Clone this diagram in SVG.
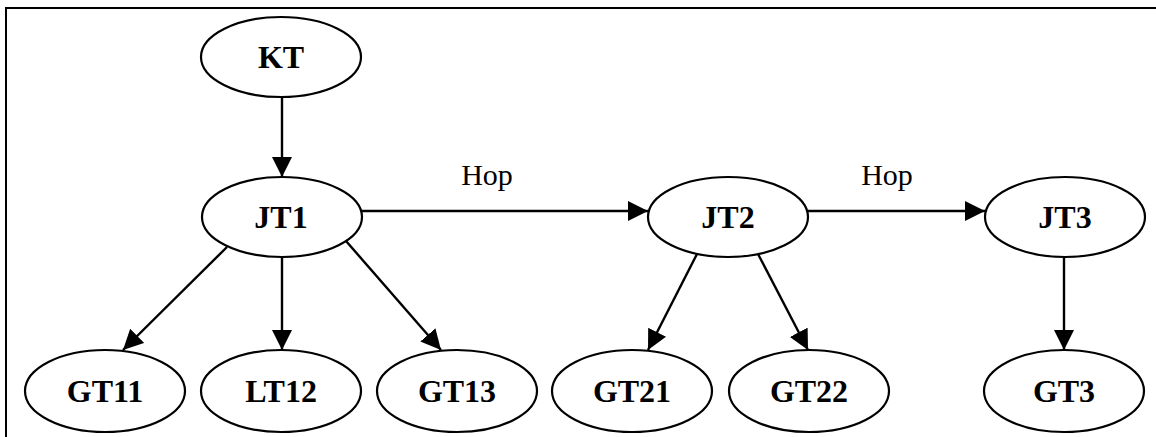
<svg xmlns="http://www.w3.org/2000/svg" width="1156" height="437" viewBox="0 0 1156 437">
  <style>
    .node ellipse { fill: #ffffff; stroke: #000000; stroke-width: 2.2; }
    .node text { font-family: "Liberation Serif", "Times New Roman", serif; font-weight: bold; font-size: 32px; text-anchor: middle; fill: #000000; }
    .edge { fill: none; stroke: #000000; stroke-width: 2.4; marker-end: url(#arrow); }
    .label { font-family: "Liberation Serif", "Times New Roman", serif; font-size: 30px; text-anchor: middle; fill: #000000; }
    .frame { fill: none; stroke: #000000; stroke-width: 2; }
  </style>
  <defs>
    <marker id="arrow" markerUnits="userSpaceOnUse" markerWidth="21" markerHeight="21" refX="20" refY="10" orient="auto">
      <path d="M0,0 L20,10 L0,20 Z" fill="#000000"/>
    </marker>
  </defs>

  <rect width="1156" height="437" fill="#ffffff"/>

  <!-- frame: top and left edges only -->
  <path class="frame" d="M6,437 L6,8 L1156,8"/>

  <g id="connectors">
    <path class="edge" d="M282,97 L282,177"/>
    <path class="edge" d="M362,211 L648,211"/>
    <path class="edge" d="M808,211 L985,211"/>
    <path class="edge" d="M227,247 L123,350"/>
    <path class="edge" d="M282,257 L282,350"/>
    <path class="edge" d="M346,241 L441,350"/>
    <path class="edge" d="M697,254 L648,350"/>
    <path class="edge" d="M758,254 L808,350"/>
    <path class="edge" d="M1064,258 L1064,350"/>
    <text class="label" x="487" y="185">Hop</text>
    <text class="label" x="887" y="185">Hop</text>
  </g>

  <g id="KT" class="node">
    <ellipse cx="281" cy="57" rx="80" ry="40"/>
    <text x="281" y="68">KT</text>
  </g>
  <g id="JT1" class="node">
    <ellipse cx="282" cy="217" rx="80" ry="40"/>
    <text x="281" y="228">JT1</text>
  </g>
  <g id="JT2" class="node">
    <ellipse cx="728" cy="217" rx="80" ry="40"/>
    <text x="728" y="228">JT2</text>
  </g>
  <g id="JT3" class="node">
    <ellipse cx="1065" cy="217" rx="80" ry="40"/>
    <text x="1065" y="228">JT3</text>
  </g>
  <g id="GT11" class="node">
    <ellipse cx="105" cy="391" rx="80" ry="41"/>
    <text x="105" y="402">GT11</text>
  </g>
  <g id="LT12" class="node">
    <ellipse cx="281" cy="391" rx="80" ry="41"/>
    <text x="281" y="402">LT12</text>
  </g>
  <g id="GT13" class="node">
    <ellipse cx="457" cy="391" rx="80" ry="41"/>
    <text x="457" y="402">GT13</text>
  </g>
  <g id="GT21" class="node">
    <ellipse cx="632" cy="391" rx="80" ry="41"/>
    <text x="632" y="402">GT21</text>
  </g>
  <g id="GT22" class="node">
    <ellipse cx="809" cy="391" rx="80" ry="41"/>
    <text x="809" y="402">GT22</text>
  </g>
  <g id="GT3" class="node">
    <ellipse cx="1064" cy="391" rx="80" ry="41"/>
    <text x="1064" y="402">GT3</text>
  </g>
</svg>
